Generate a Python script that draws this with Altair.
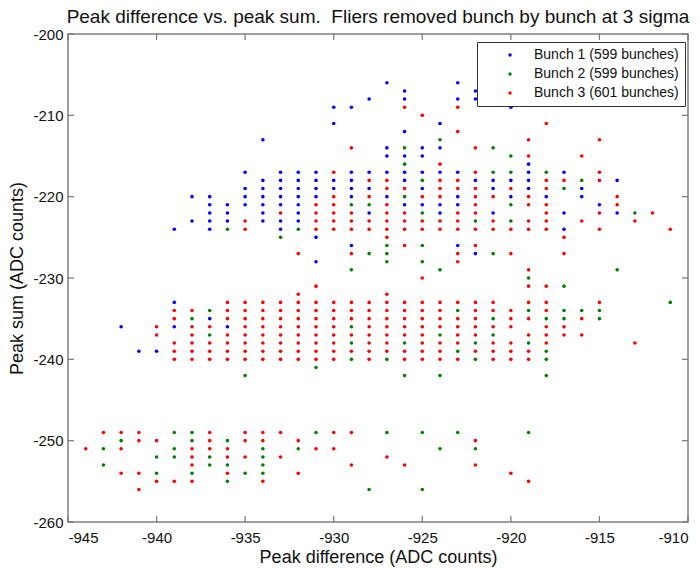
import altair as alt
import pandas as pd

# Visible dots per series: {peak sum (y): [peak difference (x) values]}
bunch1_rows = {
    -206: [-927, -923],
    -207: [-926, -922],
    -208: [-928, -926, -923, -922],
    -209: [-930, -929, -920],
    -211: [-930, -924],
    -212: [-926],
    -213: [-934],
    -214: [-927, -925, -924],
    -215: [-927, -926, -925],
    -216: [-919],
    -217: [-935, -933, -932, -931, -929, -928, -927, -926, -925, -924, -923, -919, -917],
    -218: [-934, -933, -932, -931, -930, -929, -926, -922, -921, -920, -919, -914],
    -219: [-935, -934, -933, -932, -931, -930, -929, -928, -925, -921, -919, -916],
    -220: [-938, -937, -935, -934, -933, -932, -931, -929, -927, -923, -920, -918, -916],
    -221: [-937, -936, -935, -934, -933, -932, -926, -925, -924, -923, -915],
    -222: [-937, -936, -934, -932, -928, -924, -921, -917, -914],
    -223: [-938, -937, -936, -934, -933, -932],
    -224: [-939, -937, -933, -917],
    -225: [-931],
    -226: [-929, -923],
    -227: [-922],
    -228: [-931],
    -233: [-939],
    -235: [-937],
    -236: [-942, -939, -936],
    -239: [-941, -940],
}

bunch2_rows = {
    -213: [-924],
    -214: [-926, -921],
    -215: [-920],
    -216: [-926],
    -217: [-921, -920, -918],
    -218: [-925, -916],
    -219: [-917],
    -220: [-926],
    -221: [-929, -928, -920],
    -222: [-925, -913],
    -223: [-922, -920],
    -224: [-936, -932],
    -225: [-933],
    -226: [-927, -925],
    -227: [-928, -927, -921],
    -228: [-927, -925],
    -229: [-929, -924, -914],
    -230: [-919],
    -231: [-917],
    -233: [-911],
    -234: [-937, -923, -919, -917, -916, -915],
    -235: [-938, -921, -918, -917, -915],
    -236: [-929],
    -237: [-937, -924, -921],
    -238: [-929, -926, -922, -919],
    -239: [-923, -918],
    -240: [-929, -927, -922, -918],
    -241: [-931],
    -242: [-935, -926, -924, -918],
    -249: [-939, -938, -931, -927, -925, -923, -919],
    -250: [-942, -938, -936],
    -251: [-943, -939, -934, -932, -924, -922],
    -252: [-940, -939, -937, -934],
    -253: [-943, -937, -936, -934],
    -254: [-940, -938, -935, -934],
    -255: [-936],
    -256: [-928, -925],
}

bunch3_rows = {
    -209: [-926, -923],
    -210: [-925],
    -211: [-918],
    -212: [-923],
    -213: [-919, -915],
    -214: [-929, -922],
    -215: [-919, -916],
    -216: [-924],
    -217: [-930, -922, -915],
    -218: [-928, -927, -924, -923, -918, -917, -915],
    -219: [-927, -926, -924, -923, -922, -920, -918],
    -220: [-930, -928, -925, -924, -922, -921, -919, -914],
    -221: [-931, -930, -927, -922, -919, -918, -914],
    -222: [-933, -931, -930, -929, -927, -926, -923, -922, -918, -915, -912],
    -223: [-935, -931, -930, -929, -928, -927, -926, -925, -924, -923,
           -921, -919, -918, -916, -913],
    -224: [-935, -931, -930, -929, -928, -927, -926, -925, -924, -923,
           -922, -921, -920, -919, -918, -915, -911],
    -225: [-927, -917],
    -226: [-926, -922],
    -227: [-932, -929, -923, -920, -917],
    -228: [-923],
    -229: [-919],
    -230: [-925],
    -231: [-931, -919, -918],
    -232: [-932, -927],
    -233: [-936, -935, -934, -933, -932, -931, -930, -929, -928, -927, -926,
           -925, -924, -923, -922, -921, -919, -918, -915],
    -234: [-939, -938, -936, -935, -934, -933, -932, -931, -930, -929, -928,
           -927, -926, -925, -924, -922, -921, -920, -918],
    -235: [-939, -936, -935, -934, -933, -932, -931, -930, -929, -928, -927,
           -926, -925, -924, -923, -922, -920, -919, -916],
    -236: [-940, -938, -937, -935, -934, -933, -932, -931, -930, -928, -927,
           -926, -925, -924, -923, -922, -921, -920, -918, -917],
    -237: [-940, -938, -936, -935, -934, -933, -932, -931, -930, -929, -928,
           -927, -926, -925, -923, -922, -919, -918, -917, -916],
    -238: [-939, -938, -937, -936, -935, -934, -933, -932, -931, -930, -928,
           -927, -925, -924, -923, -921, -920, -918, -913],
    -239: [-939, -938, -937, -936, -935, -934, -933, -932, -931, -930, -929,
           -928, -927, -926, -925, -924, -922, -921, -920, -919],
    -240: [-939, -938, -937, -936, -935, -934, -933, -932, -931, -930, -928,
           -926, -925, -924, -923, -921, -920, -919],
    -249: [-943, -942, -941, -937, -935, -934, -933, -930, -929],
    -250: [-941, -940, -937, -935, -934, -932, -922],
    -251: [-944, -942, -938, -937, -936, -931, -930],
    -252: [-938, -936, -935, -933, -927],
    -253: [-938, -929, -926, -922],
    -254: [-942, -941, -936, -932, -920],
    -255: [-940, -939, -938, -934, -919],
    -256: [-941],
}

series_names = ["Bunch 1 (599 bunches)", "Bunch 2 (599 bunches)", "Bunch 3 (601 bunches)"]
series_colors = ["#0000ff", "#008000", "#ff0000"]
x_ticks = [-945, -940, -935, -930, -925, -920, -915, -910]
y_ticks = [-260, -250, -240, -230, -220, -210, -200]
title_text = "Peak difference vs. peak sum.\u00a0 Fliers removed bunch by bunch at 3 sigma"

records = []
for order, (name, rows) in enumerate(zip(series_names, [bunch1_rows, bunch2_rows, bunch3_rows])):
    for yv, xs in rows.items():
        for xv in xs:
            records.append({"diff": xv, "sum": yv, "series": name, "order": order})
df = pd.DataFrame(records)

W, H = 620, 488
FONT = "Liberation Sans"

xscale = alt.Scale(domain=[-945, -910], nice=False, zero=False)
yscale = alt.Scale(domain=[-260, -200], nice=False, zero=False)

points = alt.Chart(df).mark_circle(size=13, opacity=1).encode(
    x=alt.X("diff:Q", scale=xscale,
            axis=alt.Axis(values=x_ticks, title="Peak difference (ADC counts)",
                          labelExpr="'' + datum.value", ticks=False, grid=False,
                          domain=False, labelFontSize=15, titleFontSize=18,
                          labelPadding=8, titlePadding=3, labelFont=FONT,
                          titleFont=FONT, titleFontWeight="normal",
                          labelColor="#111", titleColor="#111")),
    y=alt.Y("sum:Q", scale=yscale,
            axis=alt.Axis(values=y_ticks, title="Peak sum (ADC counts)",
                          labelExpr="'' + datum.value", ticks=False, grid=False,
                          domain=False, labelFontSize=15, titleFontSize=18,
                          labelPadding=5, titlePadding=6, labelFont=FONT,
                          titleFont=FONT, titleFontWeight="normal",
                          labelColor="#111", titleColor="#111")),
    color=alt.Color("series:N",
                    scale=alt.Scale(domain=series_names, range=series_colors),
                    legend=alt.Legend(title=None, orient="none", legendX=409, legendY=8,
                                      strokeColor="#333", fillColor="white",
                                      padding=6, symbolType="circle", symbolSize=12,
                                      symbolOffset=20, labelOffset=17,
                                      labelFontSize=14, labelFont=FONT,
                                      labelColor="#111", rowPadding=5)),
    order=alt.Order("order:Q"),
)

xt = pd.DataFrame({"t": x_ticks})
yt = pd.DataFrame({"t": y_ticks})
tick_color = "#777"
xb = alt.Chart(xt).mark_rule(color=tick_color, strokeWidth=1.2).encode(
    x=alt.X("t:Q", scale=xscale), y=alt.value(H), y2=alt.value(H - 6))
xtop = alt.Chart(xt).mark_rule(color=tick_color, strokeWidth=1.2).encode(
    x=alt.X("t:Q", scale=xscale), y=alt.value(0), y2=alt.value(6))
yl = alt.Chart(yt).mark_rule(color=tick_color, strokeWidth=1.2).encode(
    y=alt.Y("t:Q", scale=yscale), x=alt.value(0), x2=alt.value(6))
yr = alt.Chart(yt).mark_rule(color=tick_color, strokeWidth=1.2).encode(
    y=alt.Y("t:Q", scale=yscale), x=alt.value(W), x2=alt.value(W - 6))

chart = alt.layer(xb, xtop, yl, yr, points).properties(
    width=W, height=H,
    title=alt.Title(title_text,
                    fontSize=19, font=FONT, fontWeight="normal", color="#111",
                    anchor="middle", offset=0),
    autosize=alt.AutoSizeParams(type="none"),
    padding={"left": 68, "top": 34, "right": 12, "bottom": 46},
).configure_view(stroke="#808080", strokeWidth=1.5)

chart.save("out.html", embed_options={"renderer": "svg", "actions": False})
